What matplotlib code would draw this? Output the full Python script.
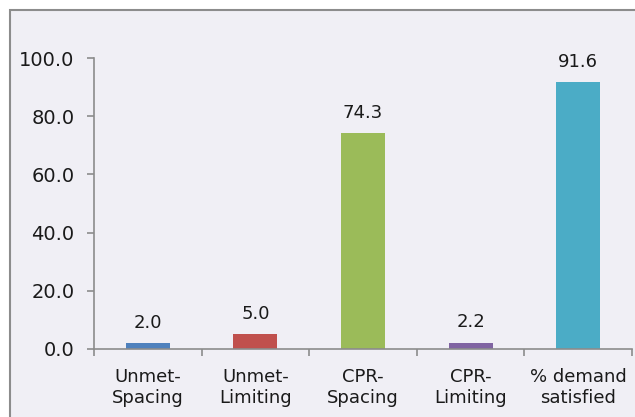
import matplotlib

matplotlib.use("Agg")
import matplotlib.pyplot as plt
from matplotlib.patches import Rectangle

# Data
categories = ["Unmet-\nSpacing", "Unmet-\nLimiting", "CPR-\nSpacing", "CPR-\nLimiting", "% demand\nsatisfied"]
values = [2.0, 5.0, 74.3, 2.2, 91.6]
colors = ["#4F81BD", "#C0504D", "#9BBB59", "#8064A2", "#4BACC6"]
yticks = [0, 20, 40, 60, 80, 100]

bg = "#F0EFF5"
axis_gray = "#8C8C8C"
text_col = "#1A1A1A"

fig = plt.figure(figsize=(6.35, 4.17), dpi=100, facecolor="white")
# outer frame of the chart area (runs off the right and bottom edges)
fig.patches.append(
    Rectangle((9.5 / 635, -0.1), 1.2, 1 - 9.5 / 417 + 0.1, transform=fig.transFigure,
              facecolor=bg, edgecolor=axis_gray, linewidth=1.5, zorder=-5)
)

ax = fig.add_axes([94 / 635, 1 - 349 / 417, (632 - 94) / 635, (349 - 58) / 417])
ax.set_zorder(1)
ax.patch.set_alpha(0)

x = range(len(categories))
ax.bar(x, values, width=0.41, color=colors, zorder=2)

for xi, v in zip(x, values):
    ax.annotate(f"{v:.1f}", (xi, v), xytext=(0, 11), textcoords="offset points",
                ha="center", va="baseline", fontsize=13, color=text_col)

ax.set_xlim(-0.5, len(categories) - 0.5)
ax.set_ylim(0, 100)
ax.set_yticks(yticks)
ax.set_yticklabels([f"{t:.1f}" for t in yticks], fontsize=14, color=text_col)

# x ticks sit between categories, labels under the centres
ax.set_xticks([i - 0.5 for i in range(len(categories) + 1)])
ax.set_xticklabels([])
ax.set_xticks(list(x), minor=True)
ax.set_xticklabels(categories, minor=True, fontsize=13, color=text_col, linespacing=1.2)
ax.tick_params(axis="x", which="minor", length=0, pad=14)
ax.tick_params(axis="x", which="major", length=5, color=axis_gray, width=1.2)
ax.tick_params(axis="y", length=5, color=axis_gray, width=1.2, pad=9)

for s in ["top", "right"]:
    ax.spines[s].set_visible(False)
for s in ["left", "bottom"]:
    ax.spines[s].set_color(axis_gray)
    ax.spines[s].set_linewidth(1.2)

fig.savefig("out.png", dpi=100, facecolor="white")
